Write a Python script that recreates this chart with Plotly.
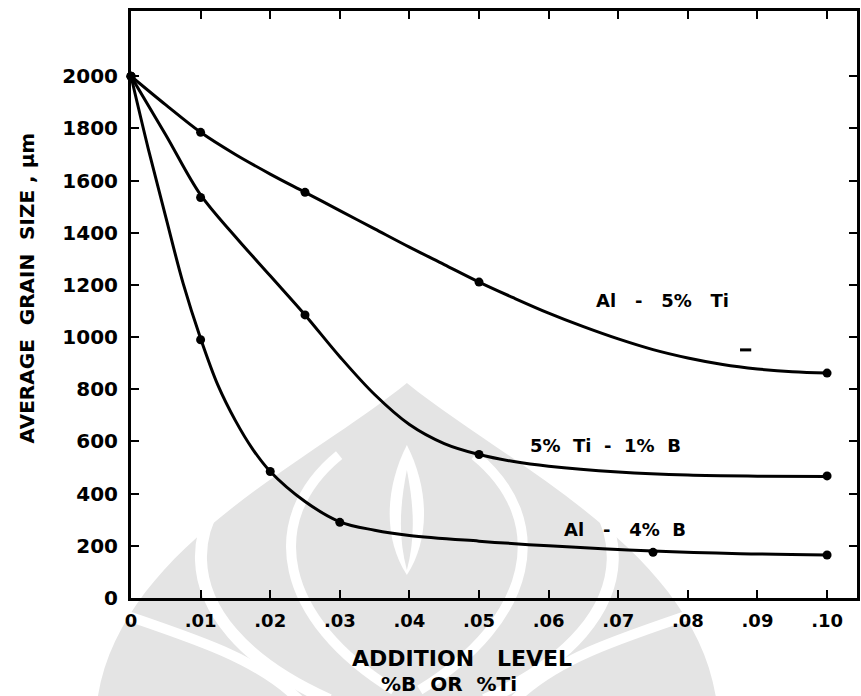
import plotly.graph_objects as go

# ---- data ----
# measured points (markers)
al5ti_x = [0.0, 0.01, 0.025, 0.05, 0.10]
al5ti_y = [2000, 1785, 1555, 1211, 862]

ti_b_x = [0.0, 0.01, 0.025, 0.05, 0.10]
ti_b_y = [2000, 1535, 1085, 550, 468]

al4b_x = [0.0, 0.01, 0.02, 0.03, 0.075, 0.10]
al4b_y = [2000, 990, 485, 290, 175, 165]

# hand-drawn fitted curves
al5ti_curve_x = [0.0, 0.005, 0.01, 0.015, 0.02, 0.025, 0.03, 0.035, 0.04, 0.045, 0.05,
                 0.055, 0.06, 0.065, 0.07, 0.075, 0.08, 0.085, 0.09, 0.095, 0.10]
al5ti_curve_y = [2000, 1890, 1785, 1700, 1625, 1555, 1485, 1415, 1345, 1278, 1211,
                 1150, 1092, 1040, 993, 952, 920, 895, 878, 867, 862]

ti_b_curve_x = [0.0, 0.005, 0.01, 0.015, 0.02, 0.025, 0.03, 0.035, 0.04, 0.045, 0.05,
                0.055, 0.06, 0.07, 0.08, 0.09, 0.10]
ti_b_curve_y = [2000, 1775, 1545, 1385, 1235, 1085, 925, 780, 665, 592, 550,
                523, 505, 483, 471, 467, 466]

al4b_curve_x = [0.0, 0.0025, 0.005, 0.0075, 0.01, 0.0125, 0.015, 0.0175, 0.02, 0.025, 0.03,
                0.035, 0.04, 0.05, 0.06, 0.075, 0.0875, 0.10]
al4b_curve_y = [2000, 1720, 1460, 1205, 995, 815, 680, 570, 485, 370, 292,
                260, 240, 218, 200, 180, 170, 165]

stray_x = [0.0883]
stray_y = [951]

x_tick_vals = [0.0, 0.01, 0.02, 0.03, 0.04, 0.05, 0.06, 0.07, 0.08, 0.09, 0.10]
x_tick_text = ["0", ".01", ".02", ".03", ".04", ".05", ".06", ".07", ".08", ".09", ".10"]
y_tick_vals = [0, 200, 400, 600, 800, 1000, 1200, 1400, 1600, 1800, 2000]
y_tick_text = [str(v) for v in y_tick_vals]

NB = "\u00a0"
series_labels = [f"Al{NB*3}-{NB*3}5%{NB*3}Ti",
                 f"5%{NB*2}Ti{NB*2}-{NB*2}1%{NB*2}B",
                 f"Al{NB*3}-{NB*3}4%{NB*2}B"]

FONT = "DejaVu Sans"
W, H = 861, 696
ML, MR, MT, MB = 131, 1, 11, 98
PX0, PX1, PY0, PY1 = ML, W - MR, H - MB, MT


def P(x, y):
    return f"{(x - PX0) / (PX1 - PX0):.4f},{(PY0 - y) / (PY0 - PY1):.4f}"


def path(cmds):
    out = []
    for c in cmds:
        out.append(c if isinstance(c, str) else P(*c))
    return " ".join(out)


fig = go.Figure()

line_style = dict(color="black", width=3, shape="spline", smoothing=1.0)
marker_style = dict(color="black", size=9)

for cx, cy, nm in [(al5ti_curve_x, al5ti_curve_y, series_labels[0]),
                   (ti_b_curve_x, ti_b_curve_y, series_labels[1]),
                   (al4b_curve_x, al4b_curve_y, series_labels[2])]:
    fig.add_trace(go.Scatter(x=cx, y=cy, mode="lines", name=nm, line=line_style,
                             showlegend=False, hoverinfo="skip"))

for xs, ys, nm in [(al5ti_x, al5ti_y, series_labels[0]),
                   (ti_b_x, ti_b_y, series_labels[1]),
                   (al4b_x, al4b_y, series_labels[2])]:
    fig.add_trace(go.Scatter(x=xs, y=ys, mode="markers", name=nm,
                             marker=marker_style, showlegend=False, cliponaxis=False))

fig.add_trace(go.Scatter(x=stray_x, y=stray_y, mode="markers", showlegend=False,
                         marker=dict(symbol="line-ew", size=8,
                                     line=dict(color="black", width=3))))

# ---- faint watermark (background decoration) ----
grey = "#e4e4e4"
shapes = []
shapes.append(dict(type="path", xref="paper", yref="paper", layer="below",
                   path=path(["M", (95, 730), "C", (95, 560), (300, 470), (408, 383),
                              "C", (516, 470), (721, 560), (721, 730), "Z"]),
                   fillcolor=grey, line=dict(width=0)))
for sgn in (-1, 1):
    def mx(x):
        return 408 + sgn * (408 - x)
    shapes.append(dict(type="path", xref="paper", yref="paper", layer="below",
                       path=path(["M", (mx(290), 447), "C", (mx(180), 490), (mx(150), 620),
                                  (mx(330), 700)]),
                       line=dict(color="white", width=12)))
    shapes.append(dict(type="path", xref="paper", yref="paper", layer="below",
                       path=path(["M", (mx(340), 455), "C", (mx(260), 520), (mx(280), 620),
                                  (mx(395), 690)]),
                       line=dict(color="white", width=10)))
    shapes.append(dict(type="path", xref="paper", yref="paper", layer="below",
                       path=path(["M", (mx(110), 610), "C", (mx(200), 640), (mx(260), 660),
                                  (mx(300), 700)]),
                       line=dict(color="white", width=10)))
shapes.append(dict(type="path", xref="paper", yref="paper", layer="below",
                   path=path(["M", (408, 445), "C", (385, 490), (385, 540), (408, 575),
                              "C", (431, 540), (431, 490), (408, 445), "Z"]),
                   fillcolor="white", line=dict(width=0)))
shapes.append(dict(type="path", xref="paper", yref="paper", layer="below",
                   path=path(["M", (408, 470), "C", (400, 510), (400, 540), (408, 570),
                              "C", (416, 540), (416, 510), (408, 470), "Z"]),
                   fillcolor=grey, line=dict(width=0)))

ann_font = dict(family=FONT, size=18, color="black", weight="bold")
centered = dict(showarrow=False, xanchor="center", yanchor="middle")
annotations = [
    dict(x=0.0764, y=1142, xref="x", yref="y", text=series_labels[0], font=ann_font, **centered),
    dict(x=0.0681, y=586, xref="x", yref="y", text=series_labels[1], font=ann_font, **centered),
    dict(x=0.0710, y=261, xref="x", yref="y", text=series_labels[2], font=ann_font, **centered),
    dict(x=(27 - PX0) / (PX1 - PX0), y=(PY0 - 288) / (PY0 - PY1), xref="paper", yref="paper",
         text=f"AVERAGE{NB*2}GRAIN{NB*2}SIZE{NB},{NB}μm", textangle=-90,
         font=dict(family=FONT, size=20, color="black", weight="bold"), **centered),
    dict(x=(463 - PX0) / (PX1 - PX0), y=(PY0 - 658) / (PY0 - PY1), xref="paper", yref="paper",
         text=f"ADDITION{NB*3}LEVEL",
         font=dict(family=FONT, size=22, color="black", weight="bold"), **centered),
    dict(x=(450 - PX0) / (PX1 - PX0), y=(PY0 - 684) / (PY0 - PY1), xref="paper", yref="paper",
         text=f"%B{NB*2}OR{NB*2}%Ti",
         font=dict(family=FONT, size=20, color="black", weight="bold"), **centered),
]

axis_common = dict(showline=True, linecolor="black", linewidth=3, mirror="allticks",
                   ticks="inside", ticklen=8, tickwidth=2, tickcolor="black",
                   showgrid=False, zeroline=False)

fig.update_layout(
    width=W, height=H,
    margin=dict(l=ML, r=MR, t=MT, b=MB),
    paper_bgcolor="white", plot_bgcolor="rgba(0,0,0,0)",
    xaxis=dict(range=[0, 0.1043], tickvals=x_tick_vals, ticktext=x_tick_text,
               ticklabelstandoff=4,
               tickfont=dict(family=FONT, size=18, color="black", weight="bold"),
               **axis_common),
    yaxis=dict(range=[0, 2250], tickvals=y_tick_vals, ticktext=y_tick_text,
               ticklabelstandoff=6,
               tickfont=dict(family=FONT, size=20, color="black", weight="bold"),
               **axis_common),
    shapes=shapes,
    annotations=annotations,
)

fig.write_html("out.html")
